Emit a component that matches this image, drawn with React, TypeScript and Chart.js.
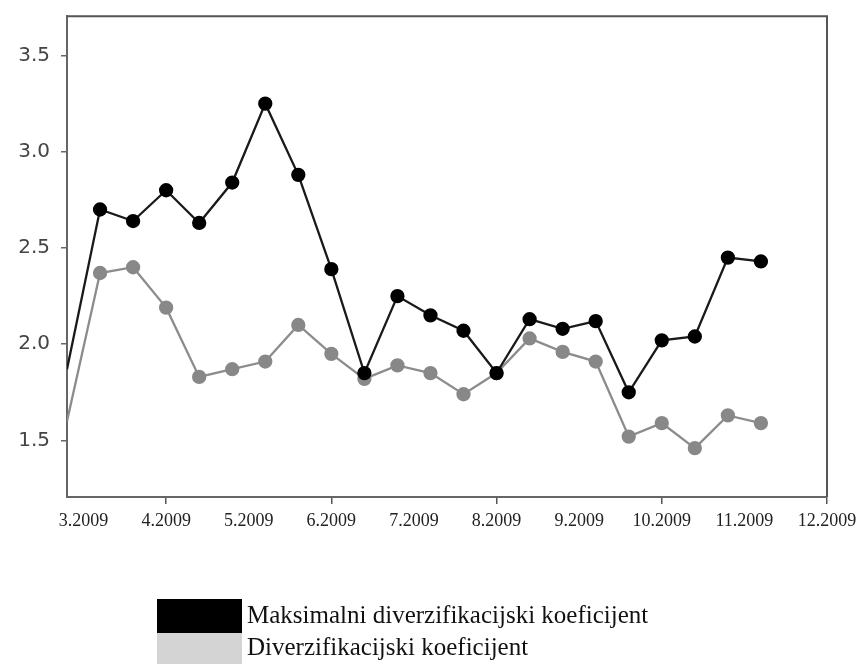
import { useEffect, useRef } from "react";
import { Chart, registerables } from "chart.js";

Chart.register(...registerables);

// X axis: one unit per observation; months are placed on that same axis.
const TICK_POSITIONS = [0.5, 3, 5.5, 8, 10.5, 13, 15.5, 18, 20.5, 23];
const TICK_LABELS = ["3.2009", "4.2009", "5.2009", "6.2009", "7.2009", "8.2009", "9.2009", "10.2009", "11.2009", "12.2009"];
const MARKED_TICKS = [3, 8, 13, 18, 23];
const Y_TICKS = [1.5, 2.0, 2.5, 3.0, 3.5];

const SERIES_LABELS = ["Maksimalni diverzifikacijski koeficijent", "Diverzifikacijski koeficijent"];
const MAX_COEF = [1.87, 2.70, 2.64, 2.80, 2.63, 2.84, 3.25, 2.88, 2.39, 1.85, 2.25, 2.15, 2.07, 1.85, 2.13, 2.08, 2.12, 1.75, 2.02, 2.04, 2.45, 2.43];
const COEF = [1.60, 2.37, 2.40, 2.19, 1.83, 1.87, 1.91, 2.10, 1.95, 1.82, 1.89, 1.85, 1.74, 1.85, 2.03, 1.96, 1.91, 1.52, 1.59, 1.46, 1.63, 1.59];

const framePlugin = {
  id: "frame",
  afterDraw(chart: any) {
    const { ctx, chartArea } = chart;
    ctx.save();
    ctx.strokeStyle = "#555";
    ctx.lineWidth = 2;
    ctx.beginPath();
    ctx.moveTo(chartArea.left, chartArea.top);
    ctx.lineTo(chartArea.right, chartArea.top);
    ctx.lineTo(chartArea.right, chartArea.bottom);
    ctx.stroke();
    ctx.restore();
  },
};

const legendPlugin = {
  id: "boxLegend",
  afterDraw(chart: any) {
    const ctx = chart.ctx;
    const x0 = 149;
    const boxW = 85;
    const rows = [
      { y: 591, h: 34, base: 615 },
      { y: 625, h: 32, base: 647 },
    ];
    ctx.save();
    chart.data.datasets.forEach((ds: any, i: number) => {
      const r = rows[i];
      ctx.fillStyle = ds.legendColor;
      ctx.fillRect(x0, r.y, boxW, r.h);
      ctx.fillStyle = "#111";
      ctx.font = '25px "Liberation Serif"';
      ctx.textBaseline = "alphabetic";
      ctx.textAlign = "left";
      ctx.fillText(ds.label, x0 + boxW + 5, r.base);
    });
    ctx.restore();
  },
};

export default function App() {
  const ref = useRef<HTMLCanvasElement | null>(null);

  useEffect(() => {
    document.body.style.margin = "0";
    document.body.style.overflow = "hidden";
    if (!ref.current) return;
    const hideFirst = (c: any) => (c.dataIndex === 0 ? 0 : 6);
    const chart = new Chart(ref.current, {
      type: "line",
      data: {
        datasets: [
          {
            label: SERIES_LABELS[0],
            data: MAX_COEF.map((v, i) => ({ x: i, y: v })),
            borderColor: "#1a1a1a",
            borderWidth: 2.3,
            pointBackgroundColor: "#000",
            pointBorderColor: "#000",
            pointRadius: hideFirst,
            pointHoverRadius: hideFirst,
            tension: 0,
            legendColor: "#000000",
          } as any,
          {
            label: SERIES_LABELS[1],
            data: COEF.map((v, i) => ({ x: i, y: v })),
            borderColor: "#8c8c8c",
            borderWidth: 2.3,
            pointBackgroundColor: "#888888",
            pointBorderColor: "#888888",
            pointRadius: hideFirst,
            pointHoverRadius: hideFirst,
            tension: 0,
            legendColor: "#d4d4d4",
          } as any,
        ],
      },
      options: {
        animation: false,
        responsive: true,
        maintainAspectRatio: false,
        layout: { padding: { top: 6, right: 31, left: 0, bottom: 0 } },
        plugins: { legend: { display: false }, tooltip: { enabled: false } },
        scales: {
          x: {
            type: "linear",
            min: 0,
            max: 23,
            afterBuildTicks: (s: any) => {
              s.ticks = TICK_POSITIONS.map((v) => ({ value: v }));
            },
            afterFit: (s: any) => {
              s.height = 167;
              s.paddingLeft = 0;
              s.paddingRight = 0;
            },
            ticks: {
              autoSkip: false,
              maxRotation: 0,
              callback: (v: any) => TICK_LABELS[TICK_POSITIONS.indexOf(Number(v))],
              font: { family: "Liberation Serif", size: 18 },
              color: "#222",
              padding: 6,
            },
            grid: {
              drawOnChartArea: false,
              tickLength: 7,
              lineWidth: 1.5,
              color: (c: any) => (c.tick && MARKED_TICKS.includes(c.tick.value) ? "#555" : "rgba(0,0,0,0)"),
            },
            border: { color: "#666", width: 2 },
          },
          y: {
            min: 1.206,
            max: 3.704,
            afterBuildTicks: (s: any) => {
              s.ticks = Y_TICKS.map((v) => ({ value: v }));
            },
            afterFit: (s: any) => {
              s.width = 59;
              s.paddingTop = 0;
              s.paddingBottom = 0;
            },
            ticks: {
              callback: (v: any) => Number(v).toFixed(1),
              font: { family: "DejaVu Sans", size: 20 },
              color: "#444",
              padding: 11,
            },
            grid: { drawOnChartArea: false, tickLength: 6, lineWidth: 1.5, color: "#666" },
            border: { color: "#666", width: 2 },
          },
        },
      },
      plugins: [framePlugin, legendPlugin],
    });
    return () => chart.destroy();
  }, []);

  return (
    <div style={{ paddingTop: 8, paddingLeft: 8 }}>
      <div style={{ width: 850, height: 656, position: "relative" }}>
        <canvas ref={ref} />
      </div>
    </div>
  );
}
